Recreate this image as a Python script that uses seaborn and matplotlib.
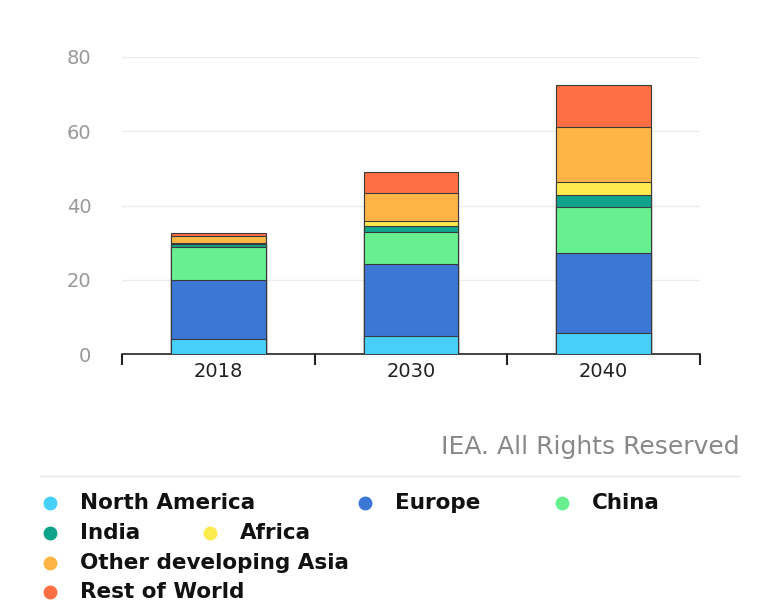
import matplotlib
matplotlib.use("Agg")
import matplotlib.pyplot as plt
from matplotlib.lines import Line2D
import numpy as np
import pandas as pd
import seaborn as sns

# ---- data ----
years = ["2018", "2030", "2040"]
north_america = [4.0, 4.85, 5.75]
europe = [15.9, 19.4, 21.35]
china = [9.0, 8.5, 12.6]
india = [0.7, 1.6, 3.0]
africa = [0.2, 1.6, 3.6]
other_asia = [1.9, 7.4, 14.9]
rest_of_world = [1.0, 5.7, 11.3]

series_names = ["North America", "Europe", "China", "India", "Africa",
                "Other developing Asia", "Rest of World"]
series_values = [north_america, europe, china, india, africa, other_asia, rest_of_world]
colors = ["#46d0fa", "#3b77d4", "#68ef90", "#10a38b", "#fdea4f", "#feb546", "#fe6f44"]
y_ticks = [0, 20, 40, 60, 80]

sns.set_theme(style="white")
plt.rcParams["font.family"] = ["DejaVu Sans"]

fig = plt.figure(figsize=(7.57, 6.10), dpi=100)
ax = fig.add_axes([122 / 757, 1 - 354 / 610, (700 - 122) / 757, (354 - 57) / 610])

# cumulative tops, drawn from tallest down so each layer overlaps the previous
cum = np.cumsum(np.array(series_values), axis=0)
for i in range(len(series_names) - 1, -1, -1):
    df = pd.DataFrame({"year": years, "value": cum[i]})
    sns.barplot(data=df, x="year", y="value", color=colors[i], saturation=1,
                width=0.49, edgecolor="#3a3a3a", linewidth=0.8, ax=ax, zorder=3)

ax.set_xlim(-0.5, 2.5)
ax.set_ylim(0, 80)
ax.set_yticks(y_ticks)
ax.set_yticklabels([str(t) for t in y_ticks])
ax.grid(axis="y", color="#ececec", linewidth=1, zorder=0)
ax.grid(axis="x", visible=False)
for s in ["top", "right", "left"]:
    ax.spines[s].set_visible(False)
ax.spines["bottom"].set_color("#222222")
ax.spines["bottom"].set_linewidth(1.2)
ax.set_xlabel("")
ax.set_ylabel("")
ax.tick_params(axis="y", length=0, pad=22, labelsize=14, labelcolor="#999999")
# category boundary ticks
ax.set_xticks([0, 1, 2], labels=years)
ax.set_xticks([-0.5, 0.5, 1.5, 2.5], minor=True)
ax.tick_params(axis="x", which="major", bottom=False, length=0, pad=6,
               labelsize=14, labelcolor="#222222")
ax.tick_params(axis="x", which="minor", bottom=True, length=8, width=1.5,
               color="#222222", direction="out")

# source note
fig.text(740 / 757, 1 - 447 / 610, "IEA. All Rights Reserved", ha="right", va="center",
         fontsize=18, color="#888888")
fig.add_artist(Line2D([40 / 757, 740 / 757], [1 - 476 / 610, 1 - 476 / 610],
                      color="#e6e6e6", linewidth=1))

# legend (flowing rows)
legend_pos = [(50, 503), (365, 503), (562, 503), (50, 533), (210, 533), (50, 563), (50, 592)]
for name, col, (px, py) in zip(series_names, colors, legend_pos):
    fig.add_artist(Line2D([px / 757], [1 - py / 610], marker="o", markersize=9,
                          color=col, linestyle="none"))
    fig.text((px + 30) / 757, 1 - py / 610, name, ha="left", va="center",
             fontsize=15.5, fontweight="bold", color="#111111")

fig.savefig("out.png", dpi=100, facecolor="white")
